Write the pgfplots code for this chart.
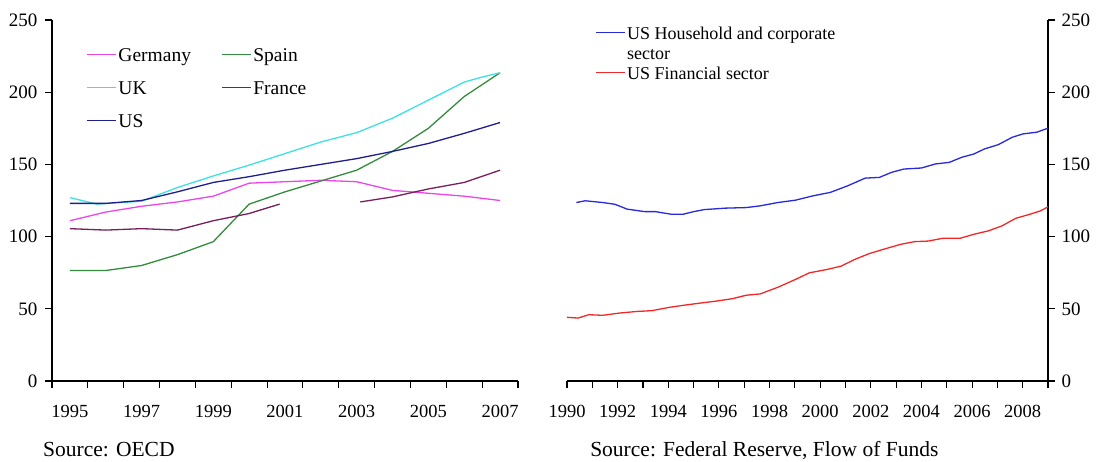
\documentclass[border=0pt]{standalone}
\usepackage{fontspec}
\setmainfont{Liberation Serif}
\usepackage{pgfplots}
\pgfplotsset{compat=1.18}

\definecolor{germany}{RGB}{235,70,235}
\definecolor{spain}{RGB}{50,140,60}
\definecolor{uk}{RGB}{60,225,225}
\definecolor{france}{RGB}{120,30,90}
\definecolor{usnavy}{RGB}{30,30,140}
\definecolor{hhblue}{RGB}{40,40,220}
\definecolor{finred}{RGB}{240,40,40}

\pgfplotsset{
  chartbase/.style={
    scale only axis,
    clip=false,
    ymin=0, ymax=250,
    ytick={0,50,...,250},
    tick align=outside,
    major tick length=7pt,
    axis line style={line width=1.2pt},
    tick style={line width=1.1pt, black},
    /pgf/number format/assume math mode=true,
    yticklabel style={font=\fontsize{19}{22}\selectfont},
    xticklabel style={font=\fontsize{18.5}{22}\selectfont, yshift=-14pt},
    every axis plot/.append style={line width=1.3pt},
    legend cell align=left,
    legend image code/.code={\draw[line width=1.3pt,##1] (0pt,0.3em) -- (29pt,0.3em);},
  }
}

\begin{document}
\begin{tikzpicture}
\useasboundingbox (0,0) rectangle (1106pt,461pt);

% left: OECD countries
\begin{axis}[chartbase,
  at={(52pt,80pt)}, anchor=south west,
  width=466pt, height=361pt,
  axis x line*=bottom, axis y line*=left,
  xmin=1994.5, xmax=2007.5,
  xtick={1994.5,1995.5,...,2007.5},
  xticklabels={1995,,1997,,1999,,2001,,2003,,2005,,2007,},
  xticklabel style={xshift=17.9pt},
  yticklabel style={xshift=-4pt},
  unbounded coords=jump,
  legend columns=2,
  legend style={at={(0.0665,0.9266)}, anchor=north west, draw=none, fill=none,
    font=\fontsize{19.5}{22}\selectfont, row sep=16pt,
    nodes={inner xsep=2pt, inner ysep=0pt, text height=13pt, text depth=4pt},
    /tikz/every even column/.append style={column sep=28pt}},
]
\addplot[germany] coordinates {
 (1995,111) (1996,117) (1997,121) (1998,124) (1999,128) (2000,137) (2001,138)
 (2002,139) (2003,138) (2004,132) (2005,130) (2006,128) (2007,125)};
\addlegendentry{Germany}
\addplot[spain] coordinates {
 (1995,76.5) (1996,76.5) (1997,80) (1998,87.5) (1999,96.5) (2000,122.5) (2001,131)
 (2002,138.5) (2003,146) (2004,159) (2005,175) (2006,197) (2007,213.5)};
\addlegendentry{Spain}
\addplot[uk] coordinates {
 (1995,127) (1995.75,122.5) (1997,124.5) (1998,134) (1999,142) (2000,149.5) (2001,157.5)
 (2002,165.5) (2003,172) (2004,182) (2005,194.5) (2006,207) (2006.5,210.5) (2007,213.5)};
\addlegendentry{UK}
\addplot[france] coordinates {
 (1995,105.5) (1996,104.5) (1997,105.5) (1998,104.5) (1999,111) (2000,116) (2000.85,122.5)
 (2001.5,nan) (2003.1,124) (2004,127.5) (2005,133) (2006,137.5) (2007,146)};
\addlegendentry{France}
\addplot[usnavy] coordinates {
 (1995,123) (1996,123) (1997,125) (1998,131) (1999,137.5) (2000,141.5) (2001,146)
 (2002,150) (2003,154) (2004,159) (2005,164.5) (2006,171.5) (2007,179)};
\addlegendentry{US}
\node[anchor=base west, font=\fontsize{21.5}{24}\selectfont, inner sep=0pt]
  at (rel axis cs:-0.0193,-0.2105) {Source: OECD};
\end{axis}

% right: US sectors
\begin{axis}[chartbase,
  at={(567pt,80pt)}, anchor=south west,
  width=481pt, height=361pt,
  axis x line*=bottom, axis y line*=right,
  xmin=1990, xmax=2009,
  xtick={1990,1991,...,2009},
  xticklabels={1990,,1992,,1994,,1996,,1998,,2000,,2002,,2004,,2006,,2008,},
  yticklabel style={xshift=3pt},
  legend style={at={(0.052,0.986)}, anchor=north west, draw=none, fill=none,
    font=\fontsize{18}{20}\selectfont, row sep=4pt,
    nodes={inner xsep=1.5pt, inner ysep=0pt, text height=12pt, text depth=4pt}},
]
\addplot[hhblue] coordinates {
 (1990.37,123.6) (1990.72,124.8) (1991.41,123.6) (1991.89,122.4) (1992.38,119.0)
 (1993.07,117.3) (1993.49,117.3) (1994.11,115.5) (1994.59,115.5) (1995.01,117.3)
 (1995.42,118.7) (1996.25,119.7) (1997.08,120.1) (1997.63,121.3) (1998.33,123.6)
 (1999.02,125.2) (1999.71,128.2) (2000.40,130.6) (2001.09,135.2) (2001.78,140.5)
 (2002.34,141.0) (2002.82,144.5) (2003.31,146.8) (2004.00,147.5) (2004.55,150.3)
 (2005.10,151.4) (2005.59,154.9) (2006.07,157.2) (2006.49,160.7) (2007.04,163.7)
 (2007.59,168.8) (2008.01,171.1) (2008.56,172.3) (2009.00,175.1)};
\addlegendentry{US Household and corporate}
\addlegendimage{empty legend}
\addlegendentry{sector}
\addplot[finred] coordinates {
 (1990.00,44.1) (1990.44,43.6) (1990.86,45.9) (1991.41,45.5) (1992.10,47.1)
 (1992.79,48.2) (1993.35,48.7) (1994.04,51.0) (1994.59,52.4) (1995.28,54.0)
 (1995.84,55.2) (1996.53,57.0) (1997.08,59.4) (1997.63,60.3) (1998.33,64.9)
 (1999.02,70.3) (1999.57,74.9) (2000.26,77.2) (2000.82,79.5) (2001.37,84.2)
 (2001.92,88.1) (2002.48,91.1) (2003.17,94.6) (2003.72,96.5) (2004.27,96.9)
 (2004.83,98.8) (2005.52,98.8) (2006.07,101.6) (2006.63,103.9) (2007.18,107.4)
 (2007.73,112.7) (2008.29,115.5) (2008.70,117.8) (2009.00,120.6)};
\addlegendentry{US Financial sector}
\node[anchor=base west, font=\fontsize{21.5}{24}\selectfont, inner sep=0pt]
  at (rel axis cs:0.048,-0.2105) {Source: Federal Reserve, Flow of Funds};
\end{axis}
\end{tikzpicture}
\end{document}
